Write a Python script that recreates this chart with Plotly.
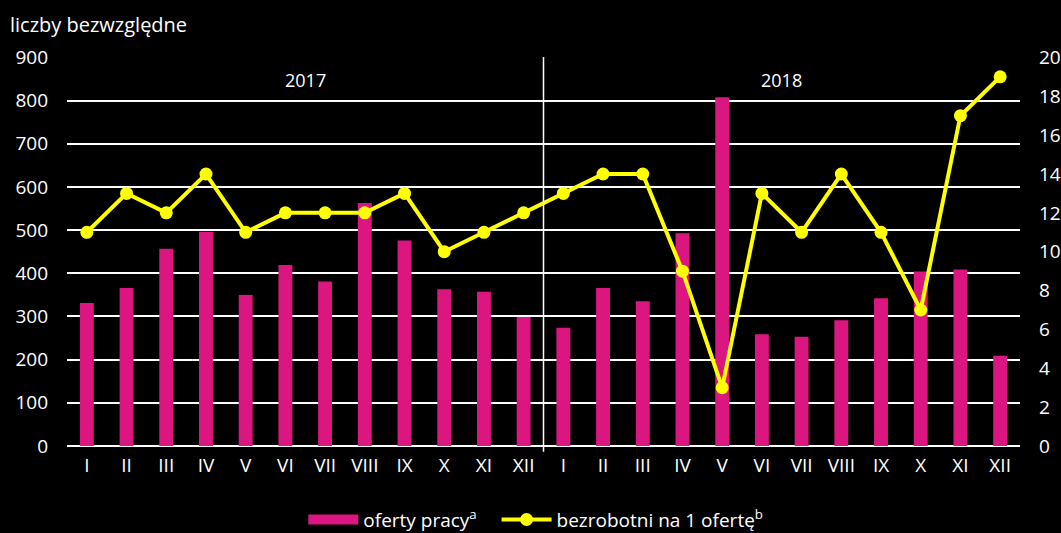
import plotly.graph_objects as go

months = ["I", "II", "III", "IV", "V", "VI", "VII", "VIII", "IX", "X", "XI", "XII"]
years = ["2017", "2018"]
tick_labels = months + months

oferty = [331, 366, 457, 496, 350, 419, 381, 563, 476, 363, 357, 299,
          274, 366, 335, 493, 808, 259, 253, 291, 342, 404, 409, 209]
bezrobotni = [11, 13, 12, 14, 11, 12, 12, 12, 13, 10, 11, 12,
              13, 14, 14, 9, 3, 13, 11, 14, 11, 7, 17, 19]

x = list(range(len(tick_labels)))
font = "Open Sans"
fs = 19
pink = "#DC1680"
yellow = "#FFFF00"

fig = go.Figure()
fig.add_trace(go.Bar(x=x, y=oferty, name="oferty pracy<sup>a</sup>", showlegend=False,
                     marker=dict(color=pink, line=dict(width=0)), width=0.35))
# legend stand-in for the bars (wide rectangle like the original)
fig.add_trace(go.Scatter(x=[None], y=[None], name="oferty pracy<sup>a</sup>&nbsp;&nbsp;&nbsp;",
                         mode="lines", line=dict(color=pink, width=12)))
fig.add_trace(go.Scatter(x=x, y=bezrobotni, name="bezrobotni na 1 ofertę<sup>b</sup>",
                         yaxis="y2", mode="lines+markers",
                         line=dict(color=yellow, width=4),
                         marker=dict(color=yellow, size=13)))

# year divider and year labels
fig.add_shape(type="line", x0=11.5, x1=11.5, xref="x", y0=-0.015, y1=1, yref="paper",
              line=dict(color="white", width=1.5), layer="above")
for i, yr in enumerate(years):
    fig.add_annotation(x=5.5 + 12 * i, y=1, yref="paper", yanchor="middle", yshift=-23,
                       text=yr, showarrow=False,
                       font=dict(color="white", size=18, family=font))

fig.add_annotation(x=0, xref="paper", xanchor="left", xshift=-59, y=1, yref="paper",
                   yanchor="bottom", yshift=17, text="liczby bezwzględne", showarrow=False,
                   font=dict(color="white", size=20, family=font))

fig.update_layout(
    width=1061, height=533,
    margin=dict(l=67, r=41, t=57, b=87),
    paper_bgcolor="black", plot_bgcolor="black",
    font=dict(family=font, color="white", size=fs),
    showlegend=True,
    legend=dict(orientation="h", x=0.505, xanchor="center", xref="container",
                y=0.025, yanchor="middle", yref="container",
                font=dict(size=fs, color="white"), itemwidth=50, bgcolor="rgba(0,0,0,0)"),
    xaxis=dict(tickmode="array", tickvals=x, ticktext=tick_labels, range=[-0.5, 23.5],
               showgrid=False, zeroline=False, showline=False, ticks="", automargin=False,
               ticklabelstandoff=6, tickfont=dict(size=fs, color="white")),
    yaxis=dict(range=[0, 901], dtick=100, showgrid=True, gridcolor="white", gridwidth=1.5,
               zeroline=True, zerolinecolor="white", zerolinewidth=1.5,
               showline=False, ticks="", ticklabelstandoff=18, automargin=False,
               tickfont=dict(size=fs, color="white")),
    yaxis2=dict(range=[0, 20 * 901 / 900], tickvals=list(range(0, 21, 2)), overlaying="y",
                side="right", showgrid=False, zeroline=False, showline=False, ticks="",
                ticklabelstandoff=18, automargin=False,
                tickfont=dict(size=fs, color="white")),
)

fig.write_html("out.html", config={"displayModeBar": False},
               post_script="document.body.style.margin='0';")
